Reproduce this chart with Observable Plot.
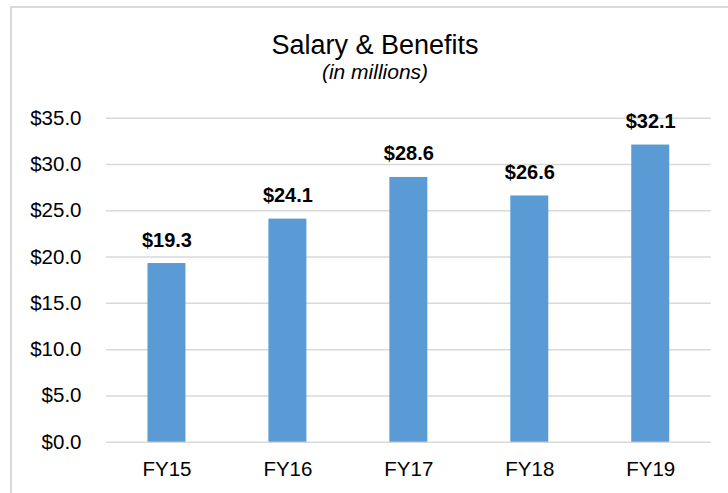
<!DOCTYPE html>
<html>
<head>
<meta charset="utf-8">
<script src="https://cdn.jsdelivr.net/npm/d3@7"></script>
<script src="https://cdn.jsdelivr.net/npm/@observablehq/plot@0.6"></script>
<style>
  html, body { margin: 0; padding: 0; background: #fff; }
  #wrap { position: relative; width: 728px; height: 493px; overflow: hidden; background: #fff;
          font-family: "Liberation Sans", Arial, sans-serif; }
  #frame { position: absolute; left: 10px; top: 6px; width: 800px; height: 600px;
           border: 2px solid #d9d9d9; box-sizing: border-box; }
  #title { position: absolute; left: 0; width: 750px; top: 32px; height: 27px; text-align: center;
           font-size: 27px; line-height: 27px; color: #000; }
  #subtitle { position: absolute; left: 0; width: 750px; top: 61px; height: 21px; text-align: center;
              font-size: 21px; font-style: italic; line-height: 21px; color: #000; }
  #chart { position: absolute; left: 0; top: 90px; }
</style>
</head>
<body>
<div id="wrap">
  <div id="frame"></div>
  <div id="title">Salary &amp; Benefits</div>
  <div id="subtitle">(in millions)</div>
  <div id="chart"></div>
</div>
<script>
const years = ["FY15", "FY16", "FY17", "FY18", "FY19"];
const values = [19.3, 24.1, 28.6, 26.6, 32.1];
const yTicks = [0, 5, 10, 15, 20, 25, 30, 35];

const data = years.map((y, i) => ({ year: y, value: values[i] }));
const fmt = d => "$" + d.toFixed(1);

const chart = Plot.plot({
  width: 728,
  height: 403,
  marginTop: 27.7,
  marginBottom: 51.3,
  marginLeft: 106,
  marginRight: 17.3,
  style: { fontFamily: "'Liberation Sans', Arial, sans-serif", fontSize: "20.5px", color: "#000", background: "transparent" },
  x: { domain: years, paddingInner: 0.686, paddingOuter: 0.343, round: false, label: null },
  y: { domain: [0, 35], label: null },
  marks: [
    Plot.ruleY(yTicks, { stroke: "#d9d9d9", strokeWidth: 1.5 }),
    Plot.barY(data, { x: "year", y: "value", fill: "#5b9bd5" }),
    Plot.text(data, { x: "year", y: "value", text: d => fmt(d.value), dy: -23.4, fontWeight: "bold", fontSize: 20, fill: "#000" }),
    Plot.axisY({ ticks: yTicks, tickFormat: fmt, tickSize: 0, tickPadding: 25, fontSize: 20.5, label: null }),
    Plot.axisX({ tickSize: 0, tickPadding: 19, fontSize: 20.5, label: null })
  ]
});
document.getElementById("chart").appendChild(chart);
</script>
</body>
</html>
